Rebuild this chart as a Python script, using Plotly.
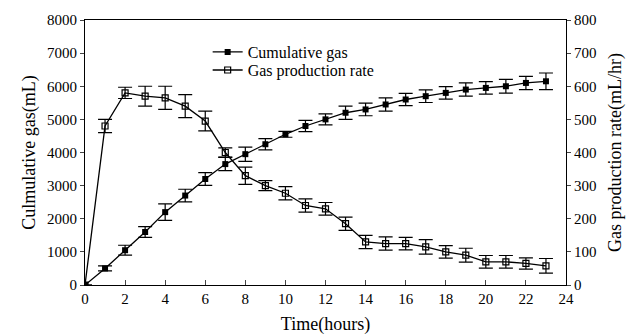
import plotly.graph_objects as go

hours = list(range(0, 24))
cumulative_gas = [0, 500, 1050, 1600, 2200, 2700, 3200, 3650, 3950, 4250, 4550, 4800, 5000, 5200,
                  5300, 5450, 5600, 5700, 5800, 5900, 5950, 6000, 6100, 6150]
cumulative_err = [0, 75, 150, 160, 250, 190, 190, 200, 215, 170, 90, 170, 165, 200,
                  190, 200, 185, 190, 190, 200, 190, 210, 200, 250]
gas_rate = [0, 480, 580, 570, 565, 540, 495, 400, 330, 300, 277, 240, 230, 185,
            130, 125, 125, 115, 100, 90, 70, 70, 65, 58]
gas_rate_err = [0, 20, 17, 30, 35, 35, 30, 14, 26, 15, 20, 20, 19, 20,
                20, 20, 19, 22, 19, 21, 19, 19, 17, 22]

FONT = "Liberation Serif, Times New Roman, serif"

fig = go.Figure()
fig.add_trace(go.Scatter(
    x=hours, y=cumulative_gas, name="Cumulative gas", mode="lines+markers",
    line=dict(color="black", width=1.3),
    marker=dict(symbol="square", size=6, color="black"),
    error_y=dict(type="data", array=cumulative_err, visible=True, color="black", thickness=1.2, width=7),
    yaxis="y", legend="legend"))
fig.add_trace(go.Scatter(
    x=hours, y=gas_rate, name="Gas production rate", mode="lines+markers",
    line=dict(color="black", width=1.3),
    marker=dict(symbol="square-open", size=6, color="black", line=dict(width=1.2)),
    error_y=dict(type="data", array=gas_rate_err, visible=True, color="black", thickness=1.2, width=7),
    yaxis="y2", legend="legend2"))

leg = dict(xanchor="left", yanchor="middle", bgcolor="rgba(0,0,0,0)",
           font=dict(size=16, family=FONT), tracegroupgap=0)

fig.update_layout(
    width=627, height=335,
    margin=dict(l=85, r=61, t=20, b=50),
    paper_bgcolor="white", plot_bgcolor="white",
    font=dict(family=FONT, color="black", size=15),
    showlegend=True,
    legend=dict(x=0.255, y=0.879, **leg),
    legend2=dict(x=0.255, y=0.811, **leg),
    xaxis=dict(range=[0, 24], tickvals=list(range(0, 25, 2)), ticks="inside", ticklen=5,
               showline=True, linecolor="black", linewidth=1.2, mirror=True, showgrid=False,
               zeroline=False, tickfont=dict(size=15), automargin=False,
               title=dict(text="Time(hours)", font=dict(size=18), standoff=11)),
    yaxis=dict(range=[0, 8000], tickvals=list(range(0, 8001, 1000)), ticks="outside", ticklen=4,
               showline=True, linecolor="black", linewidth=1.2, showgrid=False, zeroline=False,
               tickfont=dict(size=15), automargin=False,
               title=dict(text="Culmulative gas(mL)", font=dict(size=18), standoff=6)),
    yaxis2=dict(range=[0, 800], tickvals=list(range(0, 801, 100)), ticks="outside", ticklen=4,
                overlaying="y", side="right",
                showline=True, linecolor="black", linewidth=1.2, showgrid=False, zeroline=False,
                tickfont=dict(size=15), automargin=False,
                title=dict(text="Gas production rate(mL/hr)", font=dict(size=18), standoff=12)),
)

fig.write_html("out.html")
